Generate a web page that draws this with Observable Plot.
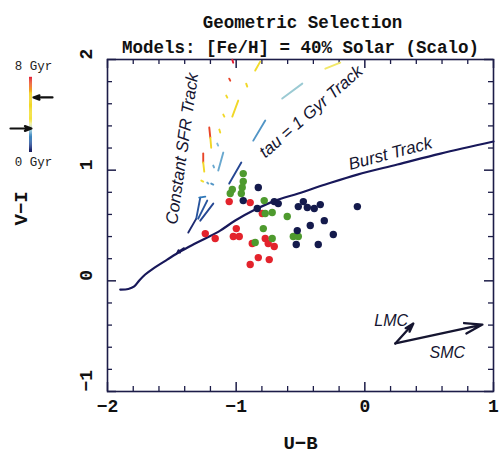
<!DOCTYPE html>
<html><head><meta charset="utf-8">
<script src="https://cdn.jsdelivr.net/npm/d3@7"></script>
<script src="https://cdn.jsdelivr.net/npm/@observablehq/plot@0.6"></script>
<style>
body{margin:0;background:#fff;}
#wrap{position:relative;width:501px;height:459px;overflow:hidden;background:#fff;}
#wrap svg{position:absolute;}
</style></head><body><div id="wrap"></div>
<script>
// ---- data ----
const xTickLabels = [-2, -1, 0, 1];
const yTickLabels = [2, 1, 0, -1];
const xMajor = [-2, -1, 0, 1];
const xMinor = [-1.8,-1.6,-1.4,-1.2,-0.8,-0.6,-0.4,-0.2,0.2,0.4,0.6,0.8];
const yMajor = [-1, 0, 1, 2];
const yMinor = [-0.8,-0.6,-0.4,-0.2,0.2,0.4,0.6,0.8,1.2,1.4,1.6,1.8];

// observed clusters (U-B, V-I)
const redUB = [-1.054,-0.891,-0.797,-0.999,-1.022,-0.976,-1.163,-1.240,-0.774,-0.751,-0.704,-0.875,-0.828,-0.743,-0.891];
const redVI = [0.716,0.707,0.609,0.472,0.400,0.400,0.382,0.427,0.382,0.337,0.310,0.337,0.210,0.192,0.147];
const greenUB = [-0.945,-0.945,-0.953,-1.030,-1.046,-0.960,-0.782,-0.774,-0.720,-0.603,-0.789,-0.720,-0.852,-0.556,-0.517];
const greenVI = [0.969,0.897,0.843,0.825,0.789,0.789,0.725,0.609,0.617,0.581,0.472,0.382,0.346,0.400,0.400];
const navyUB = [-0.828,-0.945,-0.836,-0.704,-0.673,-0.517,-0.478,-0.447,-0.393,-0.346,-0.058,-0.315,-0.424,-0.525,-0.245,-0.533,-0.362];
const navyVI = [0.843,0.725,0.653,0.716,0.698,0.671,0.716,0.662,0.653,0.689,0.671,0.544,0.500,0.454,0.418,0.328,0.328];

// burst track
const burstUB = [-1.901,-1.838,-1.792,-1.753,-1.707,-1.645,-1.536,-1.435,-1.334,-1.225,-1.124,-1.007,-0.852,-0.697,-0.517,-0.307,-0.058,0.253,0.588,1.000];
const burstVI = [-0.079,-0.074,-0.051,0.003,0.057,0.111,0.192,0.265,0.328,0.391,0.454,0.545,0.644,0.725,0.789,0.870,0.960,1.051,1.150,1.259];

// model track segments (constant SFR and tau = 1 Gyr), age in Gyr
const segUB1 = [-1.372,-1.310,-1.295,-1.279,-1.287,-1.271,-1.225,-1.194,-1.256,-1.256,-1.209,-1.201,-1.131,-1.100,-1.077,-1.054,-1.030,-1.030,-0.922,-0.852,-1.139,-1.054,-0.867,-0.642,-0.307,-1.178,-1.147];
const segVI1 = [0.436,0.562,0.562,0.544,0.752,0.906,0.888,0.879,1.150,1.069,1.385,1.294,1.367,1.502,1.674,1.827,1.999,1.484,1.782,1.900,0.996,0.879,1.267,1.647,1.917,1.042,1.240];
const segUB2 = [-1.310,-1.279,-1.225,-1.178,-1.240,-1.256,-1.217,-1.178,-1.256,-1.248,-1.201,-1.194,-1.124,-1.092,-1.069,-1.046,-1.023,-0.984,-0.914,-0.813,-1.100,-0.960,-0.774,-0.486,-0.191,-1.172,-1.140];
const segVI2 = [0.562,0.752,0.725,0.698,0.761,0.897,0.879,0.870,1.069,0.987,1.294,1.203,1.340,1.484,1.656,1.809,1.971,1.629,1.755,1.981,1.159,1.069,1.448,1.782,1.971,1.025,1.222];
const segAge = [0.3,1.0,1.0,0.8,1.5,4.0,2.0,1.8,7.5,5.0,7.5,5.5,5.0,5.0,5.0,7.5,8.0,5.0,5.0,4.5,2.0,0.8,1.8,2.4,3.3,2.0,2.2];

// colour key for age
const ageDomain = [0, 0.7, 1.5, 2.3, 3.0, 3.6, 6.3, 7.0, 8];
const ageColors = ["#1c1c5c","#23408e","#2f78b8","#8cc4dc","#f2f0a0","#f2e030","#f0d020","#f07020","#e01830"];
const legendTop = [8];
const legendBottom = [0];
const markerAges = [5.87, 2.56];

// reddening vectors
const vecFromUB = [0.237, 0.237];
const vecFromVI = [-0.566, -0.566];
const vecToUB = [0.377, 0.914];
const vecToVI = [-0.386, -0.395];
const vecNames = ["LMC", "SMC"];
const vecLabelUB = [0.205, 0.641];
const vecLabelVI = [-0.359, -0.648];

// ---- build tables ----
const dots = [
  ...redUB.map((u,i)=>({u, v: redVI[i], c: "#e3232c"})),
  ...greenUB.map((u,i)=>({u, v: greenVI[i], c: "#4e9a2e"})),
  ...navyUB.map((u,i)=>({u, v: navyVI[i], c: "#141a4c"}))
];
const burst = burstUB.map((u,i)=>({u, v: burstVI[i]}));
const segs = segAge.map((a,i)=>({x1: segUB1[i], y1: segVI1[i], x2: segUB2[i], y2: segVI2[i], age: a}));
const vecs = vecNames.map((n,i)=>({x1: vecFromUB[i], y1: vecFromVI[i], x2: vecToUB[i], y2: vecToVI[i], n, lx: vecLabelUB[i], ly: vecLabelVI[i]}));

const W = 501, H = 459, mL = 107, mR = 8, mT = 59, mB = 68;
const fw = W - mL - mR, fh = H - mT - mB;
const ink = "#1c1c48";
const mono = "'Liberation Mono', 'DejaVu Sans Mono', monospace";
const sans = "'Liberation Sans', Arial, sans-serif";
const fmt = d => d < 0 ? "\u2212" + Math.abs(d) : String(d);

const main = Plot.plot({
  width: W, height: H,
  marginLeft: mL, marginRight: mR, marginTop: mT, marginBottom: mB,
  x: {domain: [-2, 1], axis: null},
  y: {domain: [-1, 2], axis: null},
  color: {type: "linear", domain: ageDomain, range: ageColors},
  style: {background: "transparent", color: "#111"},
  marks: [
    // ticks (inward on all sides)
    Plot.tickX(xMajor, {x: d=>d, stroke: ink, strokeWidth: 1.5, insetTop: fh - 9}),
    Plot.tickX(xMinor, {x: d=>d, stroke: ink, strokeWidth: 1.3, insetTop: fh - 5}),
    Plot.tickX(xMajor, {x: d=>d, stroke: ink, strokeWidth: 1.5, insetBottom: fh - 9}),
    Plot.tickX(xMinor, {x: d=>d, stroke: ink, strokeWidth: 1.3, insetBottom: fh - 5}),
    Plot.tickY(yMajor, {y: d=>d, stroke: ink, strokeWidth: 1.5, insetRight: fw - 9}),
    Plot.tickY(yMinor, {y: d=>d, stroke: ink, strokeWidth: 1.3, insetRight: fw - 5}),
    Plot.tickY(yMajor, {y: d=>d, stroke: ink, strokeWidth: 1.5, insetLeft: fw - 9}),
    Plot.tickY(yMinor, {y: d=>d, stroke: ink, strokeWidth: 1.3, insetLeft: fw - 5}),
    Plot.frame({stroke: ink, strokeWidth: 1.6}),
    // model tracks
    Plot.link(segs, {x1: "x1", y1: "y1", x2: "x2", y2: "y2", stroke: "age", strokeWidth: 1.9, strokeLinecap: "round"}),
    Plot.line(burst, {x: "u", y: "v", stroke: "#18185a", strokeWidth: 2.2, curve: "catmull-rom"}),
    Plot.arrow([{a:1}], {x1: ()=>-1.405, y1: ()=>0.295, x2: ()=>-1.457, y2: ()=>0.255, stroke: "#18185a", strokeWidth: 2, headLength: 6}),
    // clusters
    Plot.dot(dots, {x: "u", y: "v", r: 3.7, fill: d=>d.c, stroke: "none"}),
    // reddening vectors
    Plot.arrow(vecs, {x1: "x1", y1: "y1", x2: "x2", y2: "y2", stroke: "#151530", strokeWidth: 2.3, headLength: 12, headAngle: 34}),
    Plot.text(vecs, {x: "lx", y: "ly", text: "n", fontFamily: sans, fontStyle: "italic", fontSize: 16, fill: "#151530"}),
    // track labels
    Plot.text(["Constant SFR Track"], {x: ()=>-1.419, y: ()=>1.195, rotate: -82, fontFamily: sans, fontStyle: "italic", fontSize: 17, fill: "#151530"}),
    Plot.text(["tau = 1 Gyr Track"], {x: ()=>-0.418, y: ()=>1.529, rotate: -41, fontFamily: sans, fontStyle: "italic", fontSize: 17, fill: "#151530"}),
    Plot.text(["Burst Track"], {x: ()=>0.198, y: ()=>1.150, rotate: -15, fontFamily: sans, fontStyle: "italic", fontSize: 17, fill: "#151530"}),
    // tick labels
    Plot.text(xTickLabels, {x: d=>d, frameAnchor: "bottom", dy: 20, text: fmt, fontFamily: mono, fontWeight: "bold", fontSize: 18, fill: "#111"}),
    Plot.text(yTickLabels, {y: d=>d, frameAnchor: "left", dx: -21, rotate: -90, text: fmt, fontFamily: mono, fontWeight: "bold", fontSize: 18, fill: "#111"}),
    // axis titles
    Plot.text(["U\u2212B"], {frameAnchor: "bottom", dy: 57, fontFamily: mono, fontWeight: "bold", fontSize: 19, fill: "#111"}),
    Plot.text(["V\u2212I"], {frameAnchor: "left", dx: -87, rotate: -90, fontFamily: mono, fontWeight: "bold", fontSize: 19, fill: "#111"}),
    // title
    Plot.text(["Geometric Selection"], {frameAnchor: "top", dy: -44, dx: 2, fontFamily: mono, fontWeight: "bold", fontSize: 17.5, fill: "#111"}),
    Plot.text(["Models: [Fe/H] = 40% Solar (Scalo)"], {frameAnchor: "top", dy: -19, fontFamily: mono, fontWeight: "bold", fontSize: 17.5, fill: "#111"})
  ]
});
main.style.left = "0px"; main.style.top = "0px";

// age legend
const ramp = d3.range(0, 8, 0.1);
const legend = Plot.plot({
  width: 70, height: 115, margin: 0,
  x: {domain: [0, 70], range: [0, 70], axis: null},
  y: {domain: [0, 8], range: [97, 22], axis: null},
  color: {type: "linear", domain: ageDomain, range: ageColors},
  style: {background: "transparent"},
  marks: [
    Plot.ruleX(ramp, {x: ()=>30, y1: d=>d, y2: d=>d + 0.12, stroke: d=>d + 0.05, strokeWidth: 3}),
    Plot.text(legendTop, {x: ()=>33, y: d=>d, dy: -12, text: d => d + " Gyr", fontFamily: mono, fontSize: 12.5, fill: "#222"}),
    Plot.text(legendBottom, {x: ()=>33, y: d=>d, dy: 9, text: d => d + " Gyr", fontFamily: mono, fontSize: 12.5, fill: "#222"}),
    Plot.arrow(markerAges, {x1: (d,i)=> i === 0 ? 52 : 10, x2: (d,i)=> i === 0 ? 33 : 31, y1: d=>d, y2: d=>d, stroke: "#111", strokeWidth: 2.2, headLength: 8, headAngle: 40})
  ]
});
legend.style.left = "0px"; legend.style.top = "55px";

const wrap = document.getElementById("wrap");
wrap.appendChild(main);
wrap.appendChild(legend);
</script>
</body></html>
